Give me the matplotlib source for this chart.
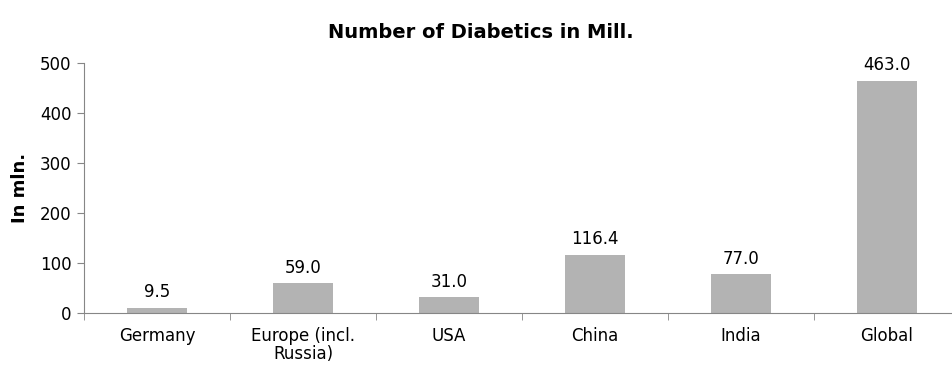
import matplotlib.pyplot as plt
import numpy as np

# Datos del gráfico
categorias = ['Germany', 'Europe (incl.\nRussia)', 'USA', 'China', 'India', 'Global']
valores = [9.5, 59.0, 31.0, 116.4, 77.0, 463.0]
yticks = [0, 100, 200, 300, 400, 500]

plt.rcParams['font.family'] = ['DejaVu Sans']

fig = plt.figure(figsize=(9.53, 3.66), dpi=100)
ax = fig.add_axes([84 / 953, 1 - 313 / 366, 876 / 953, (313 - 62.7) / 366])

x = np.arange(len(categorias))
ax.bar(x, valores, width=0.41, color='#b3b3b3')

for xi, v in zip(x, valores):
    ax.annotate(f'{v:.1f}', (xi, v), xytext=(0, 5), textcoords='offset points',
                ha='center', va='bottom', fontsize=12)

ax.set_xlim(-0.5, len(categorias) - 0.5)
ax.set_ylim(0, 500)
ax.set_yticks(yticks)
ax.tick_params(axis='y', labelsize=12, length=5, color='#868686', pad=4)

# Etiquetas de categorías sin marcas, marcas entre categorías
ax.set_xticks(x)
ax.set_xticklabels(categorias, fontsize=12, linespacing=1.0)
ax.tick_params(axis='x', length=0, pad=10)
ax.set_xticks(np.arange(-0.5, len(categorias)), minor=True)
ax.tick_params(axis='x', which='minor', length=5, color='#868686')

for s in ['top', 'right']:
    ax.spines[s].set_visible(False)
for s in ['left', 'bottom']:
    ax.spines[s].set_color('#868686')

ax.set_ylabel('In mln.', fontsize=13, fontweight='bold', labelpad=8)
fig.text(481 / 953, 1 - 33 / 366, 'Number of Diabetics in Mill.', ha='center', va='center',
         fontsize=14, fontweight='bold')

fig.savefig('out.png', dpi=100)
